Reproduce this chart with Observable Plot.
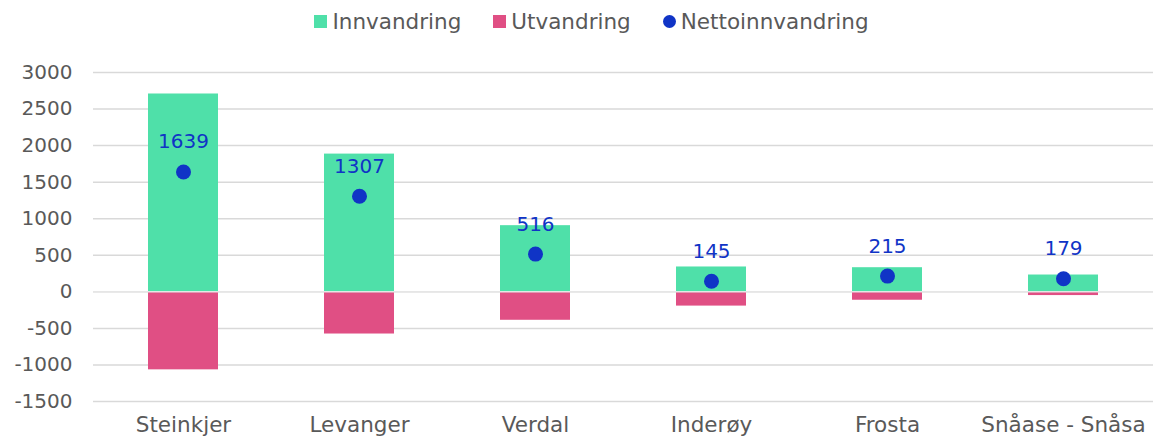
<!DOCTYPE html>
<html>
<head>
<meta charset="utf-8">
<script src="https://cdn.jsdelivr.net/npm/d3@7"></script>
<script src="https://cdn.jsdelivr.net/npm/@observablehq/plot@0.6"></script>
<style>
  body { margin: 0; background: #fff; font-family: "DejaVu Sans", Verdana, sans-serif; overflow: hidden; }
  #legend { height: 42px; display: flex; justify-content: center; align-items: center; gap: 32px; font-size: 21.5px; color: #595959; padding-left: 30px; }
  .item { display: flex; align-items: center; gap: 5px; }
  .sw { width: 13px; height: 13px; display: inline-block; }
  .dot { width: 13px; height: 13px; border-radius: 50%; display: inline-block; }
</style>
</head>
<body>
<div id="legend"></div>
<div id="chart"></div>
<script>
const categories = ["Steinkjer", "Levanger", "Verdal", "Inderøy", "Frosta", "Snåase - Snåsa"];
const innvandring = [2706, 1884, 905, 340, 330, 230];
const utvandring = [-1067, -577, -389, -195, -115, -51];
const netto = [1639, 1307, 516, 145, 215, 179];
const yTicks = [-1500, -1000, -500, 0, 500, 1000, 1500, 2000, 2500, 3000];

const colors = { inn: "#4FE0A9", ut: "#E04F84", net: "#1034C6" };
const seriesNames = ["Innvandring", "Utvandring", "Nettoinnvandring"];

const legend = document.getElementById("legend");
seriesNames.forEach((name, i) => {
  const it = document.createElement("span");
  it.className = "item";
  const sw = document.createElement("span");
  sw.className = i === 2 ? "dot" : "sw";
  sw.style.background = [colors.inn, colors.ut, colors.net][i];
  it.appendChild(sw);
  it.appendChild(document.createTextNode(name));
  legend.appendChild(it);
});

const rows = categories.map((c, i) => ({ cat: c, inn: innvandring[i], ut: utvandring[i], net: netto[i] }));

const chart = Plot.plot({
  width: 1153,
  height: 397,
  marginTop: 30,
  marginLeft: 93,
  marginRight: 0,
  marginBottom: 38,
  style: { fontFamily: "DejaVu Sans, Verdana, sans-serif", fontSize: "20px", color: "#595959", background: "#fff" },
  x: { domain: categories, paddingInner: 0.6, paddingOuter: 0.3, label: null },
  y: { domain: [-1500, 3000], ticks: yTicks, label: null, tickSize: 0, tickPadding: 21, tickFormat: d => String(d) },
  marks: [
    Plot.ruleY(yTicks, { stroke: "#d9d9d9", strokeWidth: 1.5 }),
    Plot.barY(rows, { x: "cat", y1: 0, y2: "inn", fill: colors.inn }),
    Plot.barY(rows, { x: "cat", y1: 0, y2: "ut", fill: colors.ut }),
    Plot.ruleY([0], { stroke: "#e6e6e6", strokeWidth: 1.5 }),
    Plot.dot(rows, { x: "cat", y: "net", r: 7.5, fill: colors.net }),
    Plot.text(rows, { x: "cat", y: "net", text: d => String(d.net), dy: -30, fill: colors.net, fontSize: 20 }),
    Plot.axisX({ tickSize: 0, tickPadding: 15, fontSize: 21.5, label: null })
  ]
});
document.getElementById("chart").appendChild(chart);
</script>
</body>
</html>
